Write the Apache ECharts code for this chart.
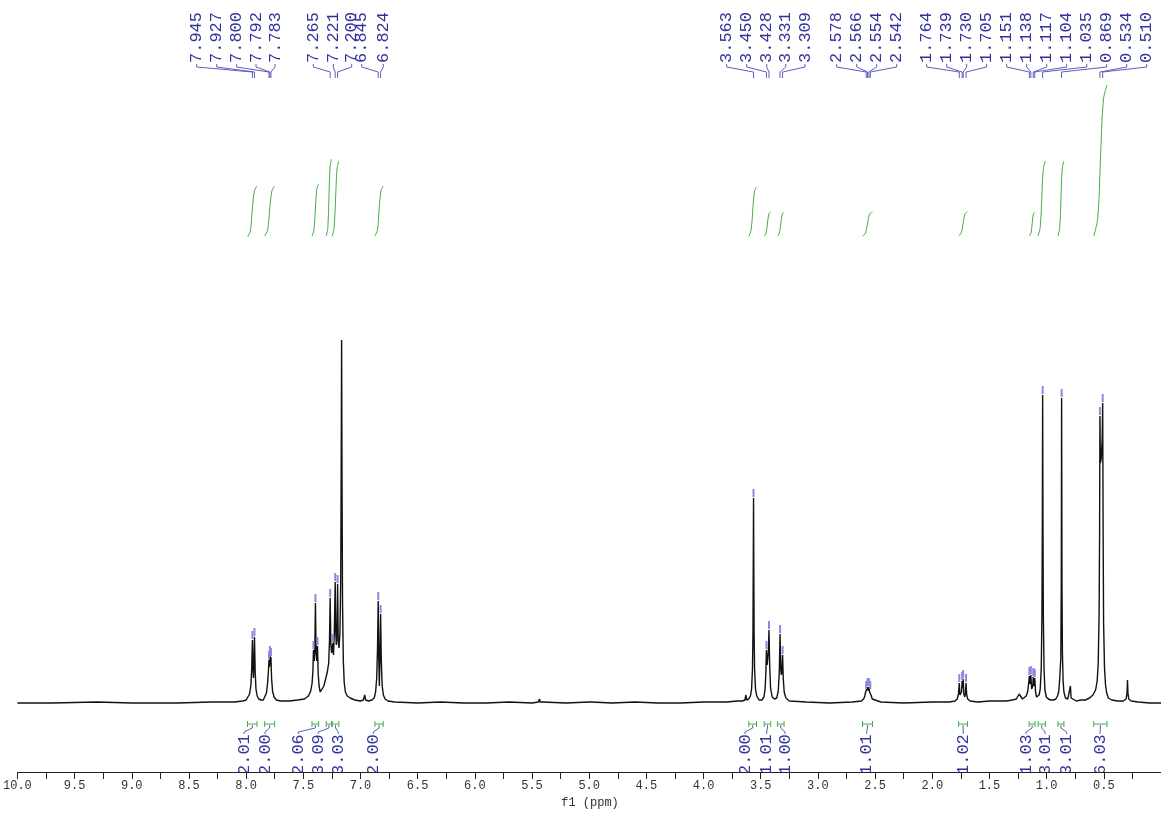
<!DOCTYPE html>
<html><head><meta charset="utf-8">
<script src="https://cdn.jsdelivr.net/npm/echarts@6/dist/echarts.min.js"></script>
<style>html,body{margin:0;padding:0;background:#fff}#c{width:1161px;height:813px}</style>
</head><body><div id="c"></div>
<script>
// ---------- data (ppm, intensity above baseline) ----------
const spectrum = [
[10.0,0],[9.7,0],[9.3,1],[9.0,0],[8.6,0],[8.3,1],[8.1,1],[8.03,2],[8.0,3],
[7.985,5],[7.970,9],[7.958,18],[7.951,35],[7.945,63],[7.940,34],[7.936,25],[7.932,36],[7.927,66],[7.921,32],[7.914,14],[7.903,7],[7.89,4],[7.87,3],[7.85,3],
[7.835,5],[7.822,10],[7.812,20],[7.805,32],[7.800,43],[7.796,36],[7.792,48],[7.788,38],[7.783,46],[7.777,24],[7.768,11],[7.755,6],[7.735,3],[7.70,2],[7.62,2],[7.55,3],[7.49,4],
[7.455,7],[7.435,12],[7.423,20],[7.416,32],[7.411,53],[7.404,42],[7.399,55],[7.394,100],[7.388,50],[7.382,42],[7.376,57],[7.370,30],[7.362,17],[7.352,11],[7.345,10],[7.335,12],[7.32,17],[7.305,24],[7.29,31],[7.278,40],
[7.271,62],[7.265,105],[7.259,58],[7.252,50],[7.247,52],[7.242,60],[7.236,48],[7.229,70],[7.225,95],[7.221,121],[7.216,70],[7.211,58],[7.205,75],[7.200,119],[7.195,62],[7.188,55],[7.180,70],[7.173,120],[7.169,220],[7.165,363],[7.161,210],[7.157,100],[7.150,42],[7.142,20],[7.132,11],[7.115,7],[7.09,5],[7.05,3],[7.0,2],
[6.975,3],[6.963,8],[6.955,3],[6.93,2],[6.90,3],[6.88,5],[6.868,11],[6.858,25],[6.851,55],[6.845,102],[6.840,45],[6.835,17],[6.830,45],[6.824,89],[6.818,42],[6.810,17],[6.800,8],[6.785,4],[6.76,2],[6.70,1],
[6.5,0],[6.3,1],[6.1,0],[5.9,0],[5.7,1],[5.5,0],[5.445,1],[5.435,4],[5.43,1],[5.415,3],[5.41,1],[5.2,0],[5.0,1],[4.99,3],[4.98,1],[4.8,0],[4.6,1],[4.4,0],[4.2,0],[4.0,1],[3.8,1],[3.7,2],
[3.66,2],[3.638,3],[3.630,8],[3.623,3],[3.605,4],[3.59,7],[3.580,14],[3.572,35],[3.568,70],[3.566,120],[3.563,205],[3.560,120],[3.558,70],[3.554,35],[3.546,14],[3.535,7],[3.515,3],[3.49,3],
[3.472,6],[3.462,14],[3.456,28],[3.450,53],[3.444,38],[3.438,40],[3.433,52],[3.428,73],[3.422,38],[3.414,15],[3.400,6],[3.38,4],[3.36,5],
[3.347,12],[3.338,30],[3.331,69],[3.325,34],[3.320,28],[3.315,32],[3.309,48],[3.303,24],[3.295,11],[3.28,5],[3.25,2],[3.1,1],[2.9,0],[2.7,1],[2.62,2],
[2.600,4],[2.590,7],[2.583,11],[2.578,13],[2.572,10],[2.566,16],[2.560,12],[2.554,16],[2.548,11],[2.542,13],[2.536,8],[2.525,4],[2.51,2],[2.45,1],[2.25,0],[2.0,1],[1.85,1],[1.80,2],
[1.782,4],[1.771,9],[1.764,20],[1.758,8],[1.750,6],[1.744,11],[1.739,22],[1.735,15],[1.730,24],[1.724,9],[1.716,6],[1.710,10],[1.705,20],[1.699,8],[1.690,4],[1.67,2],[1.60,1],[1.5,2],[1.42,2],[1.35,2],[1.30,3],
[1.265,4],[1.250,6],[1.240,9],[1.234,10],[1.226,8],[1.212,4],[1.195,4],[1.178,7],[1.165,12],[1.157,20],[1.151,27],[1.145,19],[1.138,28],[1.131,14],[1.126,12],[1.121,17],[1.117,26],[1.111,17],[1.104,25],[1.097,11],[1.088,6],[1.078,5],
[1.066,8],[1.056,14],[1.047,35],[1.041,90],[1.038,170],[1.035,308],[1.032,170],[1.029,90],[1.023,35],[1.015,13],[1.003,6],[0.985,4],[0.965,3],[0.952,5],[0.938,3],[0.92,4],[0.905,7],
[0.895,11],[0.888,20],[0.884,28],[0.880,26],[0.876,45],[0.872,120],[0.869,305],[0.866,120],[0.862,50],[0.856,22],[0.849,11],[0.835,5],[0.815,4],[0.800,6],[0.792,17],[0.786,5],[0.775,3],[0.74,2],[0.70,3],[0.66,3],
[0.625,5],[0.595,8],[0.572,13],[0.558,22],[0.549,40],[0.541,90],[0.537,170],[0.534,287],[0.530,240],[0.522,245],[0.514,265],[0.510,300],[0.506,170],[0.502,80],[0.494,35],[0.485,18],[0.475,10],[0.46,5],[0.43,3],[0.38,2],[0.33,2],
[0.305,4],[0.297,10],[0.293,23],[0.289,10],[0.282,4],[0.26,2],[0.2,1],[0.1,0],[0.0,0]
];

// picked peaks with labels
const peakPPM = [7.945,7.927,7.800,7.792,7.783,7.265,7.221,7.200,6.845,6.824,3.563,3.450,3.428,3.331,3.309,2.578,2.566,2.554,2.542,1.764,1.739,1.730,1.705,1.151,1.138,1.117,1.104,1.035,0.869,0.534,0.510];
const peakTop = [63,66,43,48,46,105,121,119,102,89,205,53,73,69,48,13,16,16,13,20,22,24,20,27,28,26,25,308,305,287,300];
// picked peaks without visible labels
const extraPeakPPM = [7.411,7.394,7.376,7.242];
const extraPeakTop = [53,100,57,60];

// integrals
const intFrom = [7.988,7.838,7.424,7.299,7.247,6.874,3.604,3.470,3.354,2.610,1.770,1.153,1.075,0.901,0.588];
const intTo   = [7.905,7.751,7.366,7.253,7.189,6.801,3.537,3.413,3.296,2.523,1.692,1.101,1.011,0.849,0.472];
const intValues = ["2.01","2.00","2.06","3.09","3.03","2.00","2.00","1.01","1.00","1.01","1.02","1.03","3.01","3.01","6.03"];
const integralCurves = [
[[7.988,466],[7.963,472],[7.947,492],[7.928,512],[7.905,517]],
[[7.838,467],[7.812,473],[7.795,492],[7.775,512],[7.751,517]],
[[7.424,467],[7.407,473],[7.395,493],[7.382,514],[7.366,519]],
[[7.299,467],[7.285,476],[7.276,505],[7.266,536],[7.253,544]],
[[7.247,467],[7.230,476],[7.218,504],[7.205,534],[7.189,542]],
[[6.874,467],[6.852,473],[6.838,492],[6.821,512],[6.801,517]],
[[3.604,467],[3.584,473],[3.571,491],[3.556,511],[3.537,516]],
[[3.470,467],[3.453,470],[3.442,479],[3.429,489],[3.413,491]],
[[3.354,467],[3.337,470],[3.325,479],[3.312,489],[3.296,491]],
[[2.610,467],[2.584,470],[2.567,479],[2.547,489],[2.523,491]],
[[1.770,467],[1.747,470],[1.731,479],[1.714,489],[1.692,491]],
[[1.153,467],[1.137,470],[1.127,479],[1.116,489],[1.101,491]],
[[1.075,467],[1.056,476],[1.043,504],[1.029,534],[1.011,542]],
[[0.901,467],[0.885,476],[0.875,504],[0.864,534],[0.849,542]],
[[0.588,467],[0.553,485],[0.530,542],[0.504,603],[0.472,618]]
];

// ---------- layout (pixel positions of the label columns) ----------
const peakLabelX = [196.7,216.7,236.7,256,275,313.3,333.3,351.7,361.7,383.3,
  726.7,746.7,766.7,785.7,805,836.7,856.7,876.7,896.7,926.7,946.7,966.7,986.7,
  1006.7,1026.7,1046.7,1066.7,1086.7,1106.7,1126.7,1146.7];
const intLabelX = [244,265,298.3,318.3,338.3,373.3,745,766.7,785,866.7,963.3,1026,1045,1066.7,1100];

const BLUE = '#32329c', LINK = '#5e5eba', MARK = '#8a8ade', GREEN = '#45ad48';
const LFONT = '17px "Liberation Mono", "DejaVu Sans Mono", monospace';
const INT_BAR_V = -21;

const chart = echarts.init(document.getElementById('c'));

const series = [{
  type: 'line', data: spectrum, symbol: 'none', silent: true,
  lineStyle: {color: '#111', width: 1.4}, z: 5
}];
integralCurves.forEach(c => series.push({
  type: 'line', data: c, symbol: 'none', smooth: 0.35, silent: true,
  lineStyle: {color: GREEN, width: 1}, z: 4
}));

const allMarks = peakPPM.map((p, i) => [p, peakTop[i]]).concat(extraPeakPPM.map((p, i) => [p, extraPeakTop[i]]));
series.push({
  type: 'custom', data: allMarks, silent: true, z: 6,
  renderItem: (params, api) => {
    const pt = api.coord([api.value(0), api.value(1)]);
    return {type: 'rect', shape: {x: pt[0] - 1, y: pt[1] - 9, width: 2, height: 8}, style: {fill: MARK}};
  }
});
series.push({
  type: 'custom', data: peakPPM.map((p, i) => [p, peakTop[i]]), silent: true, z: 6,
  renderItem: (params, api) => {
    const i = params.dataIndex;
    const pt = api.coord([api.value(0), api.value(1)]);
    const lx = peakLabelX[i];
    return {type: 'group', children: [
      {type: 'polyline', shape: {points: [[lx, 64], [lx, 67], [pt[0], 72], [pt[0], 78]]},
       style: {stroke: LINK, lineWidth: 1, fill: null}},
      {type: 'text', x: lx, y: 63, rotation: Math.PI / 2,
       style: {text: peakPPM[i].toFixed(3), font: LFONT, fill: BLUE, align: 'left', verticalAlign: 'middle'}}
    ]};
  }
});
series.push({
  type: 'custom', data: intFrom.map((f, i) => [f, intTo[i]]), silent: true, z: 6, clip: true,
  renderItem: (params, api) => {
    const i = params.dataIndex;
    const a = api.coord([api.value(0), INT_BAR_V]);
    const b = api.coord([api.value(1), INT_BAR_V]);
    const y = a[1], cx = (a[0] + b[0]) / 2, lx = intLabelX[i];
    return {type: 'group', children: [
      {type: 'line', shape: {x1: a[0], y1: y, x2: b[0], y2: y}, style: {stroke: GREEN, lineWidth: 1}},
      {type: 'line', shape: {x1: a[0], y1: y - 3, x2: a[0], y2: y + 3}, style: {stroke: GREEN, lineWidth: 1}},
      {type: 'line', shape: {x1: b[0], y1: y - 3, x2: b[0], y2: y + 3}, style: {stroke: GREEN, lineWidth: 1}},
      {type: 'polyline', shape: {points: [[cx, y + 1], [cx, y + 4], [lx, y + 8], [lx, y + 10]]},
       style: {stroke: LINK, lineWidth: 1, fill: null}},
      {type: 'text', x: lx, y: 775, rotation: Math.PI / 2,
       style: {text: intValues[i], font: LFONT, fill: BLUE, align: 'left', verticalAlign: 'middle'}}
    ]};
  }
});

chart.setOption({
  animation: false,
  backgroundColor: '#fff',
  grid: {left: 11, top: 0, width: 1151, height: 772, containLabel: false},
  xAxis: {
    type: 'value', inverse: true, min: 0, max: 10, interval: 0.5, z: 10,
    axisLine: {show: true, onZero: false, lineStyle: {color: '#222', width: 1}},
    axisTick: {show: true, inside: false, length: 7, lineStyle: {color: '#222'}},
    minorTick: {show: true, splitNumber: 2, length: 7, lineStyle: {color: '#222'}},
    splitLine: {show: false}, minorSplitLine: {show: false},
    axisLabel: {show: true, margin: 8, showMinLabel: false, color: '#333',
      fontFamily: '"Liberation Mono", monospace', fontSize: 12,
      formatter: v => v.toFixed(1)}
  },
  yAxis: {type: 'value', min: -69, max: 703, show: false},
  graphic: [{type: 'text', x: 590, y: 803,
    style: {text: 'f1 (ppm)', font: '12px "Liberation Mono", monospace', fill: '#333', align: 'center', verticalAlign: 'middle'}}],
  series: series
});
</script></body></html>
